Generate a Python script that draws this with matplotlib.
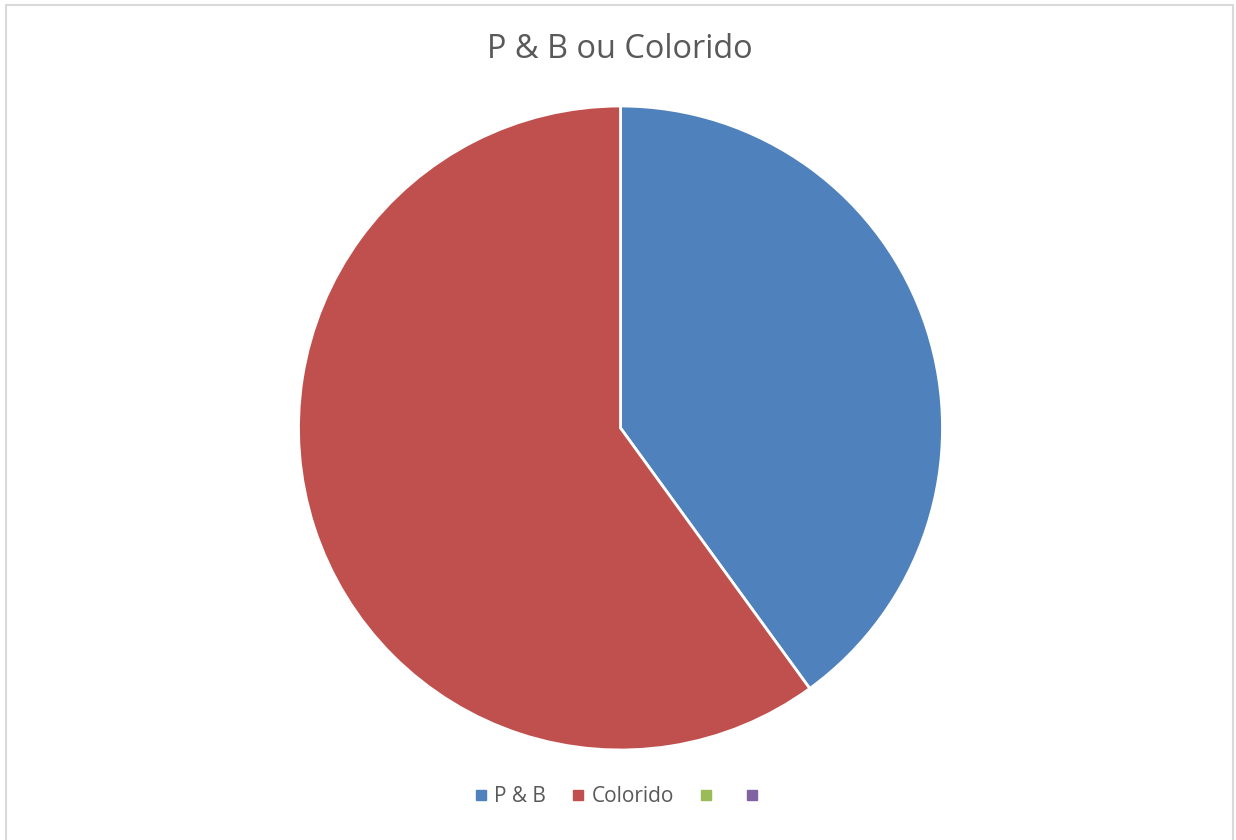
import matplotlib
matplotlib.use("Agg")
import matplotlib.pyplot as plt
from matplotlib.patches import Rectangle
from matplotlib.lines import Line2D

categories = ["P & B", "Colorido", "", ""]
values = [40, 60, 0, 0]
colors = ["#4f81bd", "#c0504d", "#9bbb59", "#8064a2"]
title = "P & B ou Colorido"

W, H = 1236, 840
fig = plt.figure(figsize=(W / 100, H / 100), dpi=100)
fig.patch.set_facecolor("white")
plt.rcParams['font.family'] = ['Open Sans', 'DejaVu Sans']

# border
fig.patches.append(Rectangle((6 / W, -0.01), (1233 - 6) / W, 1 - 5 / H + 0.01,
                             transform=fig.transFigure, fill=False,
                             edgecolor="#d9d9d9", linewidth=1.5))

cx, cy, r = 620.5, 428, 322
ax = fig.add_axes([(cx - r) / W, (H - cy - r) / H, 2 * r / W, 2 * r / H])
pv = [v for v in values if v > 0]
pc = [c for v, c in zip(values, colors) if v > 0]
ax.pie(pv, colors=pc, startangle=90, counterclock=False, radius=1,
       wedgeprops=dict(edgecolor="white", linewidth=2))
ax.set_xlim(-1, 1)
ax.set_ylim(-1, 1)
ax.set_aspect("equal")
ax.axis("off")

fig.text(620 / W, 1 - 50 / H, title, ha="center", va="center",
         fontsize=23.4, color="#595959")

handles = [Line2D([0], [0], marker="s", linestyle="none", markersize=6.5,
                  markerfacecolor=c, markeredgecolor=c) for c in colors]
leg = fig.legend(handles, categories, loc="center", bbox_to_anchor=(618 / W, 1 - 797 / H),
                 ncol=4, frameon=False, fontsize=15, handletextpad=0.15,
                 columnspacing=1.05, handlelength=1.0)
for t in leg.get_texts():
    t.set_color("#595959")

fig.savefig("out.png", dpi=100, facecolor="white")
